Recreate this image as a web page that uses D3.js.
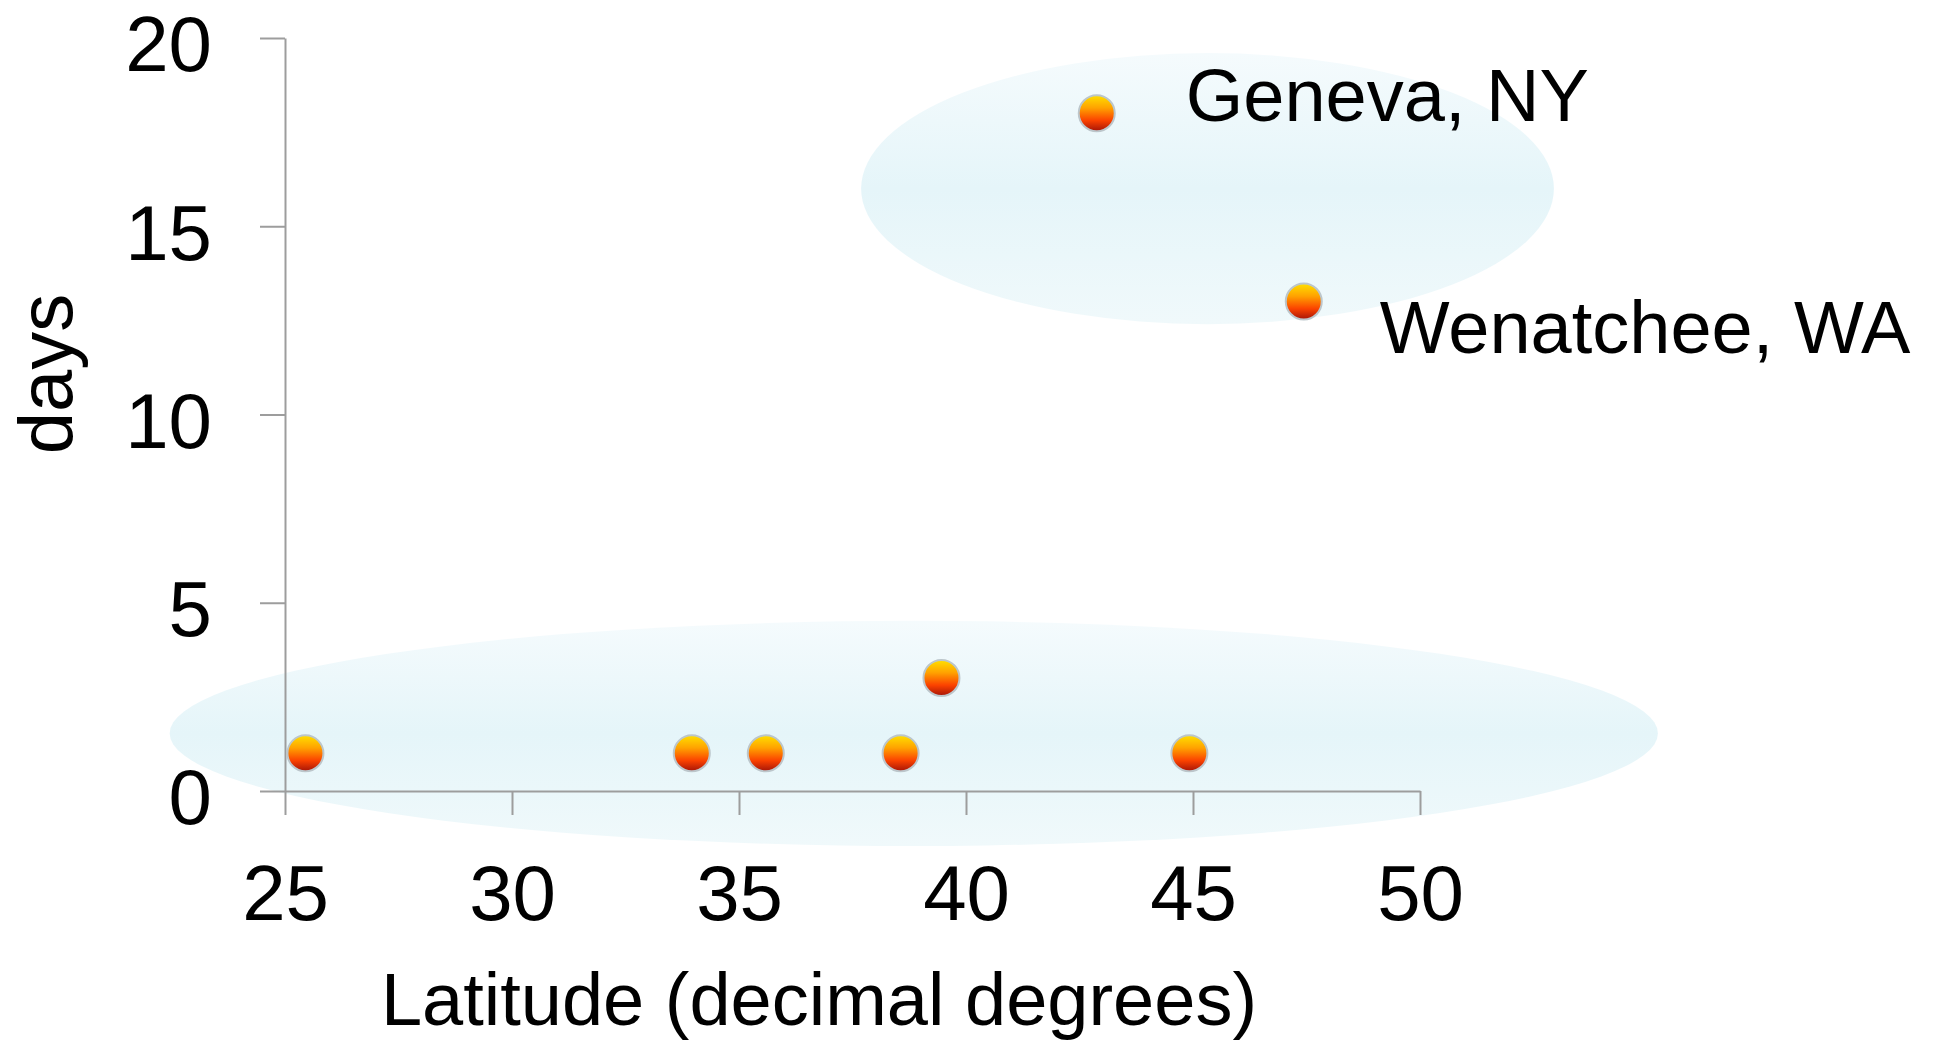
<!DOCTYPE html>
<meta charset="utf-8">
<script src="https://d3js.org/d3.v7.min.js"></script>
<style>
  body { margin: 0; background: #fff; }
  text { font-family: "Liberation Sans", Arial, sans-serif; fill: #000; }
</style>
<div id="my_dataviz"></div>
<script>

// data
var latitude = [25.45, 33.96, 35.59, 38.56, 39.46, 44.92, 42.88, 47.44];
var days     = [1, 1, 1, 1, 3, 1, 18, 13];
var pointLabels = ["", "", "", "", "", "", "Geneva, NY", "Wenatchee, WA"];
var xTicks = [25, 30, 35, 40, 45, 50];
var yTicks = [0, 5, 10, 15, 20];

// shaded groups: centre (lat, days) and radii in data units
var groupCx = [38.85, 45.32];
var groupCy = [1.53, 16.0];
var groupRx = [16.39, 7.63];
var groupRy = [2.99, 3.6];

var W = 1937, H = 1041;
var margin = {top: 38, right: 517, bottom: 250, left: 285},
    width = W - margin.left - margin.right,
    height = H - margin.top - margin.bottom;

var svg = d3.select("#my_dataviz")
  .append("svg")
    .attr("width", W)
    .attr("height", H);

var defs = svg.append("defs");

var ballGrad = defs.append("linearGradient")
    .attr("id", "ball")
    .attr("x1", 0).attr("y1", 0).attr("x2", 0).attr("y2", 1);
ballGrad.append("stop").attr("offset", "0%").attr("stop-color", "#ffe000");
ballGrad.append("stop").attr("offset", "35%").attr("stop-color", "#ffa200");
ballGrad.append("stop").attr("offset", "70%").attr("stop-color", "#fb4200");
ballGrad.append("stop").attr("offset", "100%").attr("stop-color", "#a51408");

var blobGrad = defs.append("linearGradient")
    .attr("id", "blob")
    .attr("x1", 0).attr("y1", 0).attr("x2", 0).attr("y2", 1);
blobGrad.append("stop").attr("offset", "0%").attr("stop-color", "#f5fbfd");
blobGrad.append("stop").attr("offset", "50%").attr("stop-color", "#e5f5f9");
blobGrad.append("stop").attr("offset", "100%").attr("stop-color", "#f0f9fb");

var g = svg.append("g")
    .attr("transform", "translate(" + margin.left + "," + margin.top + ")");

var x = d3.scaleLinear()
    .domain([25, 50])
    .range([0, width]);

var y = d3.scaleLinear()
    .domain([0, 20])
    .range([height, 0]);

// background ellipses
g.selectAll("ellipse.group")
  .data(d3.range(groupCx.length))
  .enter()
  .append("ellipse")
    .attr("class", "group")
    .attr("cx", function(i) { return x(groupCx[i]); })
    .attr("cy", function(i) { return y(groupCy[i]); })
    .attr("rx", function(i) { return x(groupCx[i] + groupRx[i]) - x(groupCx[i]); })
    .attr("ry", function(i) { return y(groupCy[i]) - y(groupCy[i] + groupRy[i]); })
    .style("fill", "url(#blob)");

// axes
var xAxis = g.append("g")
    .attr("transform", "translate(0," + height + ")")
    .call(d3.axisBottom(x).tickValues(xTicks).tickSize(24).tickSizeOuter(0).tickPadding(50));

var yAxis = g.append("g")
    .call(d3.axisLeft(y).tickValues(yTicks).tickSize(25).tickSizeOuter(0).tickPadding(48));

[xAxis, yAxis].forEach(function(a) {
  a.select(".domain").attr("stroke", "#9d9d9d").attr("stroke-width", 2);
  a.selectAll(".tick line").attr("stroke", "#9d9d9d").attr("stroke-width", 2);
  a.selectAll(".tick text")
    .style("font-family", "'Liberation Sans', Arial, sans-serif")
    .style("font-size", "78px")
    .attr("fill", "#000");
});
yAxis.selectAll(".tick text").attr("dy", "0.42em");

// axis titles
svg.append("text")
    .attr("x", 819)
    .attr("y", 1025)
    .attr("text-anchor", "middle")
    .style("font-size", "74px")
    .text("Latitude (decimal degrees)");

svg.append("text")
    .attr("transform", "translate(72,374) rotate(-90)")
    .attr("text-anchor", "middle")
    .style("font-size", "76px")
    .text("days");

// points
g.selectAll("circle.pt")
  .data(d3.range(latitude.length))
  .enter()
  .append("circle")
    .attr("class", "pt")
    .attr("cx", function(i) { return x(latitude[i]); })
    .attr("cy", function(i) { return y(days[i]); })
    .attr("r", 18)
    .style("fill", "url(#ball)")
    .style("stroke", "#bcc6cb")
    .style("stroke-width", 2);

// point labels
g.selectAll("text.lbl")
  .data(d3.range(latitude.length).filter(function(i) { return pointLabels[i] !== ""; }))
  .enter()
  .append("text")
    .attr("class", "lbl")
    .attr("x", function(i) { return x(latitude[i]) + (i === 6 ? 89 : 76); })
    .attr("y", function(i) { return y(days[i]) + (i === 6 ? 8 : 51); })
    .style("font-size", "74px")
    .text(function(i) { return pointLabels[i]; });

</script>
